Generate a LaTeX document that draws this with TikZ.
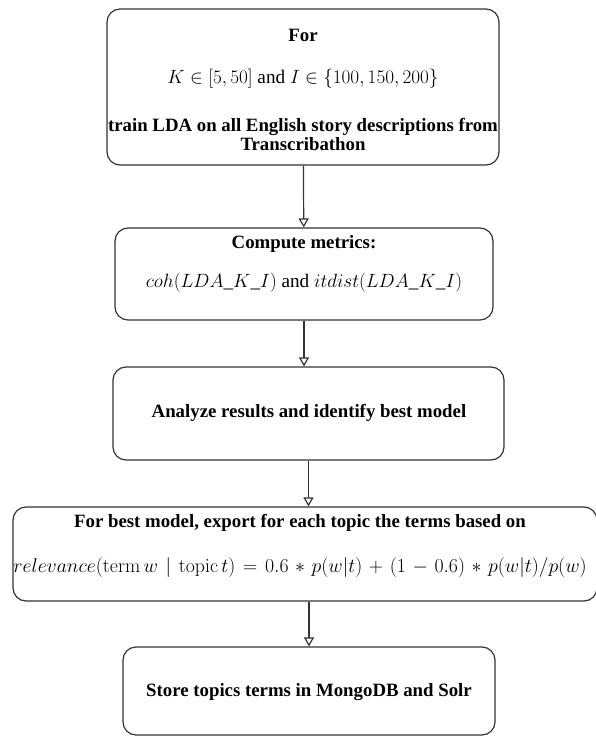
\documentclass[tikz,border=0pt]{standalone}
\usepackage{fix-cm}
\usepackage[no-math]{fontspec}
\setmainfont{Liberation Serif}
\usetikzlibrary{positioning,arrows.meta}
\newcommand{\mathline}{\fontsize{19.2}{17}\selectfont\mdseries}

\begin{document}
\begin{tikzpicture}
            [x=1pt, y=-1pt, font=\fontsize{18.8}{17}\selectfont\bfseries,
            stepbox/.style={draw=black!80, line width=1.2pt, rounded corners=13pt},
            steptext/.style={align=center, inner sep=0pt},
            flow/.style={draw=black!80, line width=1.2pt, -{Triangle[open, length=9pt, width=10pt]}}]
            \useasboundingbox (0,0) rectangle (595,738);
            % boxes
            \node [stepbox, minimum width=392pt, minimum height=156pt] (train) at (303,87) {};
            \node [stepbox, minimum width=378pt, minimum height=92pt] (metrics) at (304,274) {};
            \node [stepbox, minimum width=391pt, minimum height=93pt] (analyze) at (308.5,413.5) {};
            \node [stepbox, minimum width=584pt, minimum height=94pt] (export) at (305,554) {};
            \node [stepbox, minimum width=372pt, minimum height=88pt] (store) at (309,691) {};
            % texts
            \node [steptext] (traintxt) at (303,90) {For\\[25pt]
                {\mathline $K \in [5, 50]$ and $I \in \{100, 150, 200\}$}\\[29pt]
                train LDA on all English story descriptions from\\ Transcribathon};
            \node [steptext] (metricstxt) at (304,264) {Compute metrics:\\[19pt]
                {\mathline $coh(LDA\_K\_I)$ and $itdist(LDA\_K\_I)$}};
            \node [steptext] (analyzetxt) at (309,413) {Analyze results and identify best model};
            \node [steptext] (exporttxt) at (300,546) {For best model, export for each topic the terms based on\\[25pt]
                {\mathline\fontsize{19.8}{17}\selectfont \medmuskip=6mu \thickmuskip=7mu
                $relevance(\mathrm{term}\,w \mid \mathrm{topic}\,t) = 0.6 * p(w|t) + (1 - 0.6) * p(w|t)/p(w)$}};
            \node [steptext] (storetxt) at (309,692) {Store topics terms in MongoDB and Solr};
            % connectors
            \draw [flow] (train) -- (metrics);
            \draw [flow] (metrics.south) -- (metrics.south |- analyze.north);
            \draw [flow] (analyze.south) -- (analyze.south |- export.north);
            \draw [flow] (store.north |- export.south) -- (store.north);
\end{tikzpicture}
\end{document}
